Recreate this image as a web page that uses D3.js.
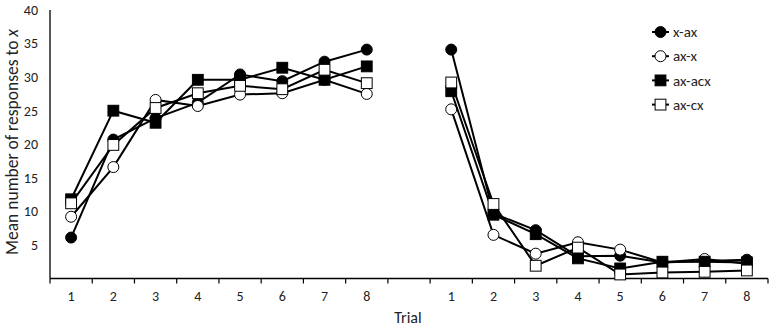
<!DOCTYPE html>
<html>
<head>
<meta charset="utf-8">
<script src="https://cdn.jsdelivr.net/npm/d3@7"></script>
<style>
  body { margin: 0; background: #fff; }
  svg { font-family: Carlito, Calibri, Lato, sans-serif; }
</style>
</head>
<body>
<div id="chart"></div>
<script>
// trial labels and the values
var trials = ["1", "2", "3", "4", "5", "6", "7", "8"];
var yTicks = [5, 10, 15, 20, 25, 30, 35, 40];
var seriesNames = ["x-ax", "ax-x", "ax-acx", "ax-cx"];

// first block of trials (left panel)
var xax_left   = [6.1, 20.7, 23.9, 26.2, 30.4, 29.4, 32.3, 34.1];
var axx_left   = [9.2, 16.6, 26.6, 25.7, 27.4, 27.6, 29.6, 27.5];
var axacx_left = [11.8, 25.0, 23.2, 29.6, 29.6, 31.4, 29.6, 31.6];
var axcx_left  = [11.2, 19.9, 25.4, 27.6, 28.7, 28.2, 31.1, 29.1];

// second block of trials (right panel)
var xax_right   = [34.1, 9.7, 7.2, 3.3, 3.4, 2.4, 2.6, 2.8];
var axx_right   = [25.2, 6.5, 3.7, 5.4, 4.3, 2.4, 2.9, 2.2];
var axacx_right = [27.9, 9.5, 6.6, 3.0, 1.5, 2.5, 2.5, 2.4];
var axcx_right  = [29.2, 11.1, 1.9, 4.6, 0.6, 0.9, 1.0, 1.2];

var width = 773, height = 327;
var margin = {top: 10, right: 5, bottom: 48.5, left: 50};

var svg = d3.select("#chart")
  .append("svg")
    .attr("width", width)
    .attr("height", height);

// 17 slots: 8 trials, an empty gap, 8 trials
var slots = trials.map(function(t) { return "L" + t; })
  .concat(["gap"])
  .concat(trials.map(function(t) { return "R" + t; }));

var x = d3.scaleBand()
    .domain(slots)
    .range([margin.left, width - margin.right])
    .paddingInner(0).paddingOuter(0);

var y = d3.scaleLinear()
    .domain([0, 40])
    .range([height - margin.bottom, margin.top]);

var cx = function(slot) { return x(slot) + x.bandwidth() / 2; };

// axes lines
svg.append("line")
    .attr("x1", margin.left).attr("x2", margin.left)
    .attr("y1", y(40)).attr("y2", y(0))
    .attr("stroke", "#000").attr("stroke-width", 1.3);
svg.append("line")
    .attr("x1", margin.left).attr("x2", width - margin.right)
    .attr("y1", y(0)).attr("y2", y(0))
    .attr("stroke", "#000").attr("stroke-width", 1.3);

// x tick marks at slot boundaries
var bounds = slots.map(function(s) { return x(s); }).concat([width - margin.right]);
svg.append("g")
  .selectAll("line")
  .data(bounds)
  .enter()
  .append("line")
    .attr("x1", function(d) { return d; })
    .attr("x2", function(d) { return d; })
    .attr("y1", y(0))
    .attr("y2", y(0) + 5)
    .attr("stroke", "#000")
    .attr("stroke-width", 1.2);

// x tick labels
svg.append("g")
  .selectAll("text")
  .data(slots.filter(function(s) { return s !== "gap"; }))
  .enter()
  .append("text")
    .attr("x", function(d) { return cx(d); })
    .attr("y", y(0) + 22)
    .attr("text-anchor", "middle")
    .style("font-size", "14px")
    .style("fill", "#222")
    .text(function(d) { return d.slice(1); });

// y tick labels
svg.append("g")
  .selectAll("text")
  .data(yTicks)
  .enter()
  .append("text")
    .attr("x", 38)
    .attr("y", function(d) { return y(d); })
    .attr("dy", "0.35em")
    .attr("text-anchor", "end")
    .style("font-size", "14px")
    .style("fill", "#222")
    .text(function(d) { return d; });

// axis titles
svg.append("text")
    .attr("x", x("gap") + x.bandwidth() / 2 - 1)
    .attr("y", 323)
    .attr("text-anchor", "middle")
    .style("font-size", "16px")
    .style("fill", "#222")
    .text("Trial");

var yTitle = svg.append("text")
    .attr("transform", "translate(18," + 142 + ") rotate(-90)")
    .attr("text-anchor", "middle")
    .style("font-size", "17.5px")
    .style("fill", "#222");
yTitle.append("tspan").text("Mean number of responses to ");
yTitle.append("tspan").style("font-style", "italic").text("x");

// series
var series = [
  {name: seriesNames[0], left: xax_left,   right: xax_right,   shape: "circle", fill: "#000"},
  {name: seriesNames[1], left: axx_left,   right: axx_right,   shape: "circle", fill: "#fff"},
  {name: seriesNames[2], left: axacx_left, right: axacx_right, shape: "square", fill: "#000"},
  {name: seriesNames[3], left: axcx_left,  right: axcx_right,  shape: "square", fill: "#fff"}
];

var line = d3.line()
    .x(function(d) { return cx(d.slot); })
    .y(function(d) { return y(d.v); });

function drawMarker(g, shape, fill, px, py) {
  if (shape === "circle") {
    g.append("circle")
      .attr("cx", px).attr("cy", py).attr("r", 5.5)
      .attr("fill", fill).attr("stroke", "#000").attr("stroke-width", 1);
  } else {
    g.append("rect")
      .attr("x", px - 5.4).attr("y", py - 5.4)
      .attr("width", 10.8).attr("height", 10.8)
      .attr("fill", fill).attr("stroke", "#000").attr("stroke-width", 1);
  }
}

series.forEach(function(s) {
  var g = svg.append("g");
  var leftPts = s.left.map(function(v, i) { return {slot: "L" + trials[i], v: v}; });
  var rightPts = s.right.map(function(v, i) { return {slot: "R" + trials[i], v: v}; });
  [leftPts, rightPts].forEach(function(pts) {
    g.append("path")
      .attr("d", line(pts))
      .attr("fill", "none")
      .attr("stroke", "#000")
      .attr("stroke-width", 2);
    pts.forEach(function(p) { drawMarker(g, s.shape, s.fill, cx(p.slot), y(p.v)); });
  });
});

// legend
var legend = svg.append("g");
series.forEach(function(s, i) {
  var ly = 32 + i * 24.2;
  legend.append("line")
    .attr("x1", 652).attr("x2", 669)
    .attr("y1", ly).attr("y2", ly)
    .attr("stroke", "#000").attr("stroke-width", 2);
  drawMarker(legend, s.shape, s.fill, 660.5, ly);
  legend.append("text")
    .attr("x", 673)
    .attr("y", ly)
    .attr("dy", "0.35em")
    .style("font-size", "15px")
    .style("fill", "#222")
    .text(s.name);
});
</script>
</body>
</html>
